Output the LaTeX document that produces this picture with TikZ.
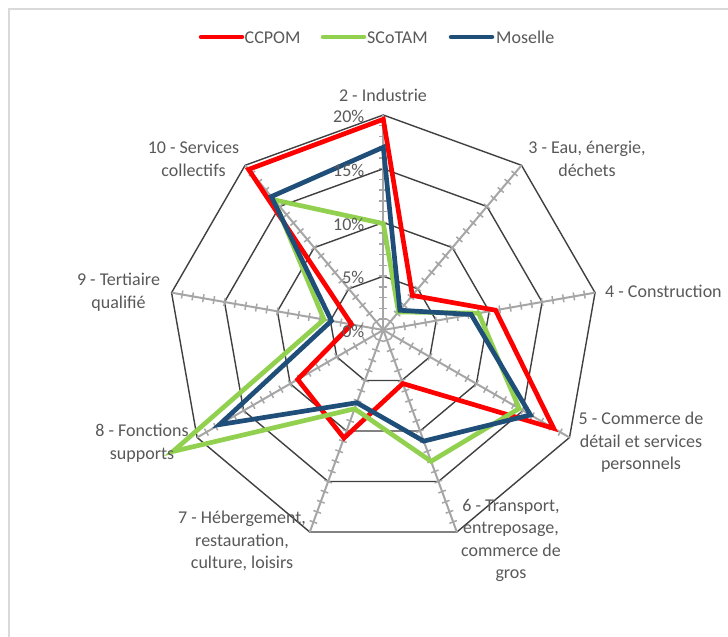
\documentclass[tikz,border=0pt]{standalone}
\usepackage{fontspec}
\setmainfont{Carlito}
\definecolor{txtgray}{HTML}{595959}
\definecolor{ringgray}{HTML}{404040}
\definecolor{axgray}{HTML}{A6A6A6}
\definecolor{bordergray}{HTML}{D9D9D9}
\definecolor{ccpom}{HTML}{FF0000}
\definecolor{scotam}{HTML}{92D050}
\definecolor{moselle}{HTML}{1F4E79}
\begin{document}
\begin{tikzpicture}[x=1pt,y=1pt,
  lbl/.style={text=txtgray, font=\fontsize{18}{22.5}\selectfont, align=center, inner sep=0pt},
  ring/.style={draw=ringgray, line width=1.4pt, line join=miter},
  axisline/.style={draw=axgray, line width=2pt},
  tick/.style={draw=axgray, line width=1.5pt},
  series/.style={line width=4.7pt, line join=miter, miter limit=20},
  legline/.style={line width=4.5pt, line cap=round}]
\useasboundingbox (0,0) rectangle (728,637);
\fill[white] (0,0) rectangle (728,637);
\draw[bordergray, line width=1.5pt] (9,0) -- (9,628) -- (728,628);
% legend
\draw[legline, ccpom] (201,600) -- (242,600);
\node[lbl, anchor=base west] (legA) at (244.5,593) {CCPOM};
\draw[legline, scotam] (323,600) -- (364,600);
\node[lbl, anchor=base west] (legB) at (367,593) {SCoTAM};
\draw[legline, moselle] (451,600) -- (492,600);
\node[lbl, anchor=base west] (legC) at (496,593) {Moselle};
\begin{scope}[shift={(383.3,307)}]
  \coordinate (O) at (0,0);
  % rings
  \foreach \r in {53.75,107.5,161.25,215}
    \draw[ring] (90:\r) -- (50:\r) -- (10:\r) -- (-30:\r) -- (-70:\r) -- (-110:\r) -- (-150:\r) -- (170:\r) -- (130:\r) -- cycle;
  % axes with ticks
  \foreach \a in {90,50,10,-30,-70,-110,-150,170,130}{
    \begin{scope}[rotate=\a]
      \draw[axisline] (O) -- (215,0);
      \foreach \i in {1,...,19}
        \draw[tick] (\i*10.75,-4) -- (\i*10.75,4);
    \end{scope}
  }
  % series
  \draw[series, ccpom] (90:10.75*19.6) -- (50:10.75*4.2) -- (10:10.75*10.6) -- (-30:10.75*18.3) -- (-70:10.75*5.3) -- (-110:10.75*10.7) -- (-150:10.75*9.2) -- (170:10.75*3.0) -- (130:10.75*19.5) -- cycle;
  \draw[series, scotam] (90:10.75*9.9) -- (50:10.75*2.2) -- (10:10.75*9.0) -- (-30:10.75*14.6) -- (-70:10.75*13.0) -- (-110:10.75*7.8) -- (-150:10.75*22.6) -- (170:10.75*5.6) -- (130:10.75*15.8) -- cycle;
  \draw[series, moselle] (90:10.75*17.0) -- (50:10.75*2.4) -- (10:10.75*8.3) -- (-30:10.75*15.8) -- (-70:10.75*11.0) -- (-110:10.75*7.2) -- (-150:10.75*17.6) -- (170:10.75*4.9) -- (130:10.75*16.2) -- cycle;
  % percent labels
  \node[lbl, anchor=east] (p0) at (-18.8,-1.5) {0\%};
  \node[lbl, anchor=east] (p5) at (-18.8,52.2) {5\%};
  \node[lbl, anchor=east] (p10) at (-18.8,106) {10\%};
  \node[lbl, anchor=east] (p15) at (-18.8,159.7) {15\%};
  \node[lbl, anchor=east] (p20) at (-18.8,213.5) {20\%};
\end{scope}
% category labels
\node[lbl] (c2) at (383,542) {2 - Industrie};
\node[lbl] (c3) at (587,478.3) {3 - Eau, énergie,\\déchets};
\node[lbl, anchor=west] (c4) at (605,345.3) {4 - Construction};
\node[lbl] (c5) at (641,194.5) {5 - Commerce de\\détail et services\\personnels};
\node[lbl] (c6) at (511,96.5) {6 - Transport,\\entreposage,\\commerce de\\gros};
\node[lbl] (c7) at (242,96) {7 - Hébergement,\\restauration,\\culture, loisirs};
\node[lbl] (c8) at (142,194) {8 - Fonctions\\supports};
\node[lbl] (c9) at (118.5,345) {9 - Tertiaire\\qualifié};
\node[lbl] (c10) at (193.5,478) {10 - Services\\collectifs};
\end{tikzpicture}
\end{document}
